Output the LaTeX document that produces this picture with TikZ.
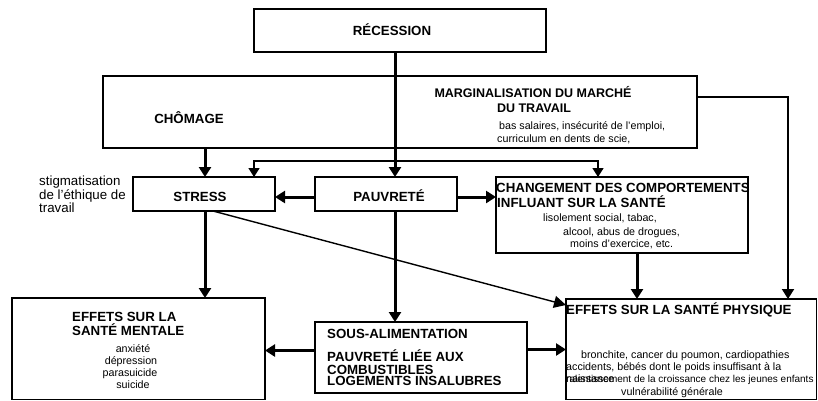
\documentclass[tikz,border=0pt]{standalone}
\usepackage{fontspec}
\setmainfont{Liberation Sans}
\usetikzlibrary{arrows.meta,calc}
\begin{document}
\begin{tikzpicture}[x=1pt,y=-1pt,
  box/.style={draw,line width=1.8pt,anchor=north west,inner sep=0pt,outer sep=0pt},
  ttl/.style={font=\bfseries\fontsize{13.3}{15}\selectfont,inner sep=0pt,text height=9.5pt,text depth=0pt},
  mtl/.style={font=\bfseries\fontsize{12.5}{15}\selectfont,inner sep=0pt,text height=9pt,text depth=0pt},
  sml/.style={font=\fontsize{10.7}{12}\selectfont,inner sep=0pt,text height=6.4pt,text depth=0pt},
  stg/.style={font=\fontsize{13.3}{15}\selectfont,inner sep=0pt,text height=8pt,text depth=0pt},
  thk/.style={line width=3pt,-{Triangle[width=12pt,length=10pt]}},
  thn/.style={line width=1.5pt,{Triangle[width=11pt,length=9pt]}-{Triangle[width=11pt,length=9pt]}},
  diag/.style={line width=1.4pt,-{Triangle[width=12pt,length=12pt]}},
  side/.style={line width=2pt,-{Triangle[width=12pt,length=10pt]}}
]
\clip (0,0) rectangle (818,400);
\fill[white] (0,0) rectangle (818,400);

% boxes
\node[box,minimum width=292pt,minimum height=43pt] (rec) at (254,9) {};
\node[box,minimum width=594pt,minimum height=72pt] (big) at (103,76) {};
\node[box,minimum width=142pt,minimum height=34pt] (stress) at (133,177) {};
\node[box,minimum width=142pt,minimum height=34pt] (pauv) at (315,177) {};
\node[box,minimum width=252pt,minimum height=76pt] (chg) at (496,177) {};
\node[box,minimum width=212pt,minimum height=71pt] (sous) at (315,322) {};
\node[box,minimum width=253pt,minimum height=101.5pt] (ment) at (12,298) {};
\node[box,minimum width=250.5pt,minimum height=100.5pt] (phys) at (566,299) {};

% texts
\node[ttl] (trec) at (392,31) {RÉCESSION};
\node[ttl] (tcho) at (189,119) {CHÔMAGE};
\node[mtl] (tmar1) at (533,93) {MARGINALISATION DU MARCHÉ};
\node[mtl] (tmar2) at (534,108) {DU TRAVAIL};
\node[sml,anchor=west] (tmar3) at (499,126) {bas salaires, insécurité de l'emploi,};
\node[sml,anchor=west] (tmar4) at (497,139) {curriculum en dents de scie,};
\node[ttl] (tstr) at (200,197) {STRESS};
\node[ttl] (tpau) at (389,197) {PAUVRETÉ};
\node[ttl,anchor=west] (tchg1) at (496,188) {CHANGEMENT DES COMPORTEMENTS};
\node[ttl,anchor=west] (tchg2) at (497,203) {INFLUANT SUR LA SANTÉ};
\node[sml,anchor=west] (tchg3) at (543,218) {lisolement social, tabac,};
\node[sml,anchor=west] (tchg4) at (563,232) {alcool, abus de drogues,};
\node[sml,anchor=west] (tchg5) at (570,244) {moins d'exercice, etc.};
\node[stg,anchor=west] (tstg1) at (39,181) {stigmatisation};
\node[stg,anchor=west] (tstg2) at (39,195) {de l’éthique de};
\node[stg,anchor=west] (tstg3) at (39,208) {travail};
\node[ttl,anchor=west] (tsous1) at (327,334) {SOUS-ALIMENTATION};
\node[ttl,anchor=west] (tsous2) at (327,357) {PAUVRETÉ LIÉE AUX};
\node[ttl,anchor=west] (tsous3) at (327,370) {COMBUSTIBLES};
\node[ttl,anchor=west] (tsous4) at (327,381) {LOGEMENTS INSALUBRES};
\node[ttl,anchor=west] (tment1) at (72,317) {EFFETS SUR LA};
\node[ttl,anchor=west] (tment2) at (72,331) {SANTÉ MENTALE};
\node[sml] (tment3) at (133,349) {anxiété};
\node[sml] (tment4) at (131,361) {dépression};
\node[sml] (tment5) at (130,373) {parasuicide};
\node[sml] (tment6) at (133,385) {suicide};
\node[ttl,anchor=west] (tphy1) at (566,310) {EFFETS SUR LA SANTÉ PHYSIQUE};
\node[sml,anchor=west] (tphy2) at (581,355) {bronchite, cancer du poumon, cardiopathies};
\node[sml,anchor=west] (tphy3) at (566,367) {accidents, bébés dont le poids insuffisant à la};
\node[sml,anchor=west] (tphy4) at (566,379) {naissance};
\node[sml,anchor=west,font=\fontsize{10}{12}\selectfont] (tphy5) at (566,379) {ralentissement de la croissance chez les jeunes enfants};
\node[sml] (tphy6) at (672,392) {vulnérabilité générale};

% helper coordinates
\coordinate (hl) at (400,161);
\coordinate (a1) at ([xshift=-5pt]rec.south);
\coordinate (a2) at ([xshift=1pt]stress.south);
\coordinate (a3) at ([xshift=9pt]pauv.south);
\coordinate (a4) at ([yshift=-3pt]pauv.east);
\coordinate (a5) at ([yshift=-3pt]pauv.west);
\coordinate (a6) at ([yshift=7pt]sous.west);
\coordinate (a7) at ([yshift=8pt]sous.east);
\coordinate (a8) at ([xshift=15pt]chg.south);
\coordinate (a9) at ([yshift=15pt]big.east);
\coordinate (a10) at ([xshift=96.75pt]phys.north);
\coordinate (a11) at ([xshift=-195pt]big.south);
\coordinate (a12) at ([xshift=9pt]stress.south);
\coordinate (a13) at ([yshift=-6pt]phys.north west);
\coordinate (a14) at ([xshift=121pt]stress.north west);
\coordinate (a15) at ([xshift=102pt]chg.north west);

% connectors
\draw[thk] (a1) -- (a1 |- pauv.north);
\draw[thk] (a11) -- (a11 |- stress.north);
\draw[thn] (a14) |- (hl) -| (a15);
\draw[thk] (a5) -- (a5 -| stress.east);
\draw[thk] (a4) -- (a4 -| chg.west);
\draw[thk] (a2) -- (a2 |- ment.north);
\draw[diag] (a12) -- (a13);
\draw[thk] (a3) -- (a3 |- sous.north);
\draw[thk] (a6) -- (a6 -| ment.east);
\draw[thk] (a7) -- (a7 -| phys.west);
\draw[thk] (a8) -- (a8 |- phys.north);
\draw[side] (a9) -| (a10);
\end{tikzpicture}
\end{document}
